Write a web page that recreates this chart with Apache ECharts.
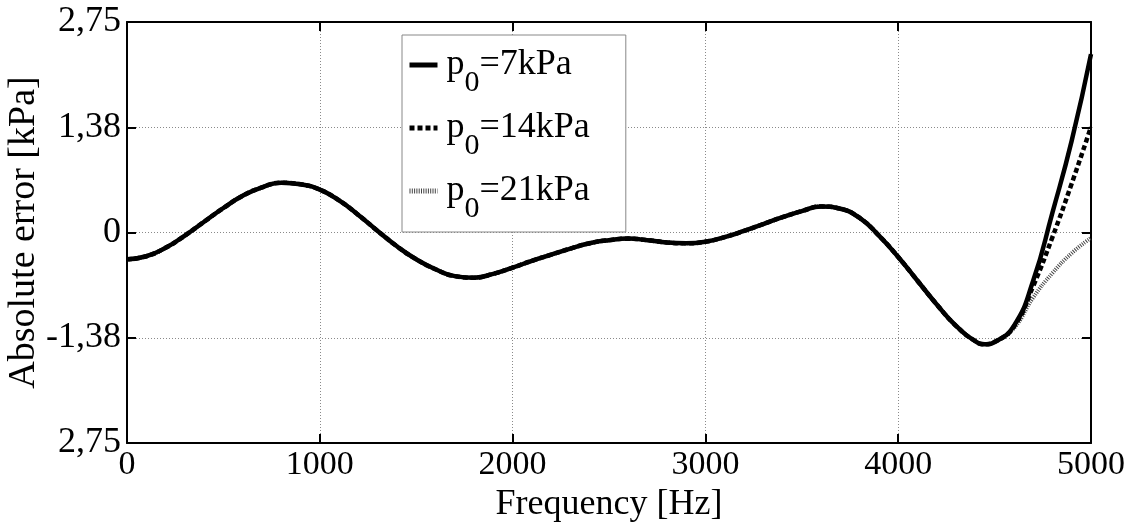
<!DOCTYPE html>
<html>
<head>
<meta charset="utf-8">
<script src="https://cdn.jsdelivr.net/npm/echarts@6/dist/echarts.min.js"></script>
<style>
html,body{margin:0;padding:0;background:#fff;}
#chart{width:1132px;height:522px;}
</style>
</head>
<body>
<div id="chart"></div>
<script>
// Data
const freqs = [0,100,200,300,400,500,600,700,800,900,1000,1100,1200,1300,1400,1500,1600,1700,1800,1900,2000,2100,2200,2300,2400,2500,2600,2700,2800,2900,3000,3100,3200,3300,3400,3500,3600,3700,3800,3900,4000,4100,4200,4300,4400,4450,4500,4600,4700,4800,4900,5000];
const err7kPa  = [-0.35,-0.31,-0.20,-0.04,0.14,0.32,0.48,0.59,0.65,0.63,0.56,0.42,0.23,0.02,-0.18,-0.35,-0.48,-0.57,-0.59,-0.54,-0.46,-0.37,-0.29,-0.21,-0.14,-0.10,-0.08,-0.10,-0.13,-0.14,-0.12,-0.06,0.02,0.11,0.20,0.28,0.34,0.31,0.19,-0.04,-0.32,-0.63,-0.94,-1.22,-1.42,-1.46,-1.43,-1.22,-0.63,0.26,1.20,2.33];
const err14kPa = [-0.35,-0.31,-0.20,-0.04,0.14,0.32,0.48,0.59,0.65,0.63,0.56,0.42,0.23,0.02,-0.18,-0.35,-0.48,-0.57,-0.59,-0.54,-0.46,-0.37,-0.29,-0.21,-0.14,-0.10,-0.08,-0.10,-0.13,-0.14,-0.12,-0.06,0.02,0.11,0.20,0.28,0.34,0.31,0.19,-0.04,-0.32,-0.63,-0.94,-1.22,-1.42,-1.46,-1.43,-1.23,-0.70,-0.06,0.64,1.38];
const err21kPa = [-0.35,-0.31,-0.20,-0.04,0.14,0.32,0.48,0.59,0.65,0.63,0.56,0.42,0.23,0.02,-0.18,-0.35,-0.48,-0.57,-0.59,-0.54,-0.46,-0.37,-0.29,-0.21,-0.14,-0.10,-0.08,-0.10,-0.13,-0.14,-0.12,-0.06,0.02,0.11,0.20,0.28,0.34,0.31,0.19,-0.04,-0.32,-0.63,-0.94,-1.22,-1.42,-1.46,-1.43,-1.25,-0.85,-0.53,-0.27,-0.07];
const seriesNames = ['p0=7kPa','p0=14kPa','p0=21kPa'];
const yTickLabels = ['2,75','-1,38','0','1,38','2,75']; // bottom to top
const xTicks = [0,1000,2000,3000,4000,5000];

const FONT = 'Liberation Serif';
const pairs = arr => freqs.map((f,i)=>[f,arr[i]]);

const chart = echarts.init(document.getElementById('chart'), null, {renderer:'canvas'});

const yMin = -2.75, yMax = 2.75, yInt = 1.375;
const gridLine = {show:true, lineStyle:{color:'#8a8a8a', type:[1,2], width:1}};

const lineStyles = [
  {color:'#000', width:4.5, type:'solid'},
  {color:'#000', width:4.5, type:[5,3]},
  {color:'#444', width:4, type:[1,1.3]}
];

const option = {
  backgroundColor:'#ffffff',
  animation:false,
  grid:{left:127, right:41, top:22, bottom:79, containLabel:false, outerBoundsMode:'none'},
  legend:{
    orient:'vertical',
    left:402, top:35,
    padding:[12,36,8,5],
    itemGap:12,
    itemWidth:28, itemHeight:14,
    borderColor:'#888', borderWidth:1,
    backgroundColor:'#fff',
    itemStyle:{opacity:0},
    data: seriesNames.map((n,i)=>({name:n, itemStyle:{opacity:0}, lineStyle:Object.assign({}, lineStyles[i], {width:5})})),
    formatter: function(name){
      return '{p|p}{s|0}{p|' + name.slice(2) + '}';
    },
    textStyle:{
      fontFamily:FONT, color:'#000', padding:[0,0,0,4],
      rich:{
        p:{fontFamily:FONT, fontSize:36, lineHeight:36, verticalAlign:'top', color:'#000'},
        s:{fontFamily:FONT, fontSize:30, lineHeight:30, verticalAlign:'top', padding:[21,0,0,0], color:'#000'}
      }
    }
  },
  xAxis:[{
    type:'value', min:0, max:5000, interval:1000,
    name:'Frequency [Hz]', nameLocation:'middle', nameGap:44, nameMoveOverlap:false,
    nameTextStyle:{fontFamily:FONT, fontSize:36, color:'#000'},
    axisLine:{show:true, onZero:false, lineStyle:{color:'#000', width:2}},
    axisTick:{show:true, inside:true, length:9, lineStyle:{color:'#000', width:2}},
    axisLabel:{fontFamily:FONT, fontSize:34, color:'#000', margin:5,
      formatter: v => xTicks.includes(v) ? String(v) : ''},
    splitLine:gridLine
  },{
    type:'value', min:0, max:5000, interval:1000, position:'top',
    axisLine:{show:true, onZero:false, lineStyle:{color:'#000', width:2}},
    axisTick:{show:true, inside:true, length:9, lineStyle:{color:'#000', width:2}},
    axisLabel:{show:false}, splitLine:{show:false}
  }],
  yAxis:[{
    type:'value', min:yMin, max:yMax, interval:yInt,
    name:'Absolute error [kPa]', nameLocation:'middle', nameGap:84, nameMoveOverlap:false,
    nameTextStyle:{fontFamily:FONT, fontSize:38, color:'#000'},
    axisLine:{show:true, onZero:false, lineStyle:{color:'#000', width:2}},
    axisTick:{show:true, inside:true, length:9, lineStyle:{color:'#000', width:2}},
    axisLabel:{fontFamily:FONT, fontSize:36, color:'#000', margin:6,
      formatter: function(v){
        const idx = Math.round((v - yMin)/yInt);
        return yTickLabels[idx] !== undefined ? yTickLabels[idx] : '';
      }},
    splitLine:gridLine
  },{
    type:'value', min:yMin, max:yMax, interval:yInt, position:'right',
    axisLine:{show:true, onZero:false, lineStyle:{color:'#000', width:2}},
    axisTick:{show:true, inside:true, length:9, lineStyle:{color:'#000', width:2}},
    axisLabel:{show:false}, splitLine:{show:false}
  }],
  series:[
    {name:seriesNames[0], type:'line', data:pairs(err7kPa), smooth:0.5, symbol:'none', z:5,
      lineStyle:lineStyles[0], itemStyle:{color:'#000'}},
    {name:seriesNames[1], type:'line', data:pairs(err14kPa), smooth:0.5, symbol:'none', z:4,
      lineStyle:lineStyles[1], itemStyle:{color:'#000'}},
    {name:seriesNames[2], type:'line', data:pairs(err21kPa), smooth:0.5, symbol:'none', z:3,
      lineStyle:lineStyles[2], itemStyle:{color:'#444'}}
  ]
};
chart.setOption(option);
</script>
</body>
</html>
